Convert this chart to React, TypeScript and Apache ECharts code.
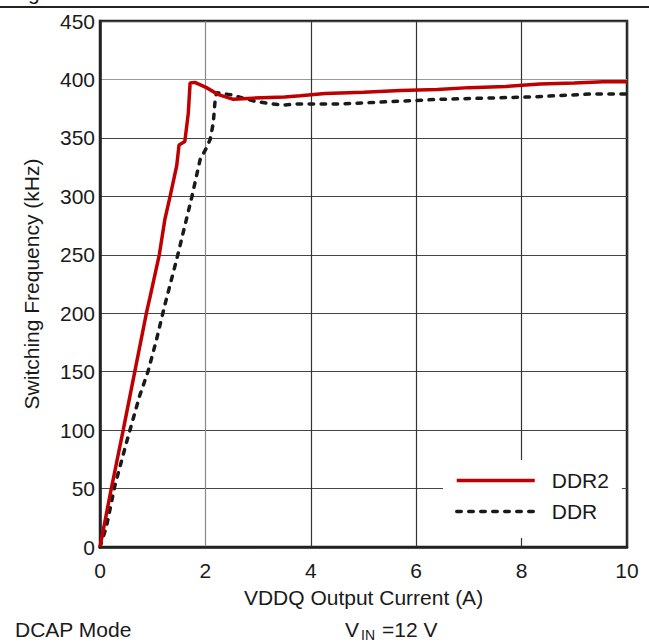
import React, { useEffect, useRef } from "react";
import * as echarts from "echarts";

const ddr2X = [0, 0.21, 0.44, 0.66, 0.88, 0.95, 1.125, 1.23, 1.33, 1.455, 1.5, 1.61, 1.675, 1.71, 1.8, 2.02, 2.25, 2.53, 2.9, 3.5, 3.8, 4.27, 5.0, 5.7, 6.4, 7.0, 7.7, 8.35, 9.0, 9.55, 10];
const ddr2Y = [0, 49, 100, 150, 200, 214, 250, 280, 300, 326, 344, 347, 371, 397, 397.5, 393, 387, 383, 384, 385, 386, 388, 389, 390.5, 391.5, 393, 394, 396, 397, 398, 398];

const ddrX = [0, 0.12, 0.28, 0.5, 0.75, 0.91, 1.07, 1.23, 1.455, 1.74, 1.9, 2.01, 2.09, 2.15, 2.18, 2.21, 2.47, 2.97, 3.45, 3.73, 4.55, 5.5, 6.45, 8.16, 9.3, 10];
const ddrY = [0, 17, 52, 89, 129, 150, 177, 207, 246, 299, 331.5, 340.6, 348.6, 363, 380, 388.6, 387, 381, 378, 379, 379, 381, 383, 385, 387.5, 387.5];

const seriesNames = ["DDR2", "DDR"];
const xAxisTitle = "VDDQ Output Current (A)";
const yAxisTitle = "Switching Frequency (kHz)";
const noteLeft = "DCAP Mode";

const FONT = "'Liberation Sans', Arial, sans-serif";
const TXT = "#1a1a1a";

export default function App() {
  const ref = useRef<HTMLDivElement>(null);
  useEffect(() => {
    if (!ref.current) return;
    const chart = echarts.init(ref.current, undefined, { renderer: "svg" });
    const zip = (xs: number[], ys: number[]) => xs.map((x, i) => [x, ys[i]]);
    chart.setOption({
      animation: false,
      backgroundColor: "#fff",
      textStyle: { fontFamily: FONT, color: TXT },
      grid: {
        left: 100,
        right: 22,
        top: 21,
        bottom: 96,
        show: true,
        borderColor: "#222",
        borderWidth: 2.5,
        backgroundColor: "transparent",
      },
      xAxis: {
        type: "value",
        min: 0,
        max: 10,
        interval: 2,
        name: xAxisTitle,
        nameLocation: "middle",
        nameGap: 40,
        nameTextStyle: { fontSize: 21, color: TXT, fontFamily: FONT },
        axisLine: { show: true, lineStyle: { color: "#222", width: 2.5 } },
        axisTick: { show: false },
        axisLabel: { fontSize: 21, color: TXT, margin: 13, fontFamily: FONT },
        splitLine: { show: true, lineStyle: { color: ["#555", "#888", "#333", "#333", "#333", "#333"], width: 1.2 } },
      },
      yAxis: {
        type: "value",
        min: 0,
        max: 450,
        interval: 50,
        name: yAxisTitle,
        nameLocation: "middle",
        nameGap: 58,
        nameRotate: 90,
        nameTextStyle: { fontSize: 21, color: TXT, fontFamily: FONT },
        axisLine: { show: true, lineStyle: { color: "#222", width: 2.5 } },
        axisTick: { show: false },
        axisLabel: { fontSize: 21, color: TXT, margin: 5, fontFamily: FONT },
        splitLine: { show: true, lineStyle: { color: ["#444", "#444", "#444", "#444", "#444", "#444", "#444", "#444", "#999", "#444"], width: 1.2 } },
      },
      legend: {
        orient: "vertical",
        left: 443,
        top: 460,
        padding: [10, 13, 16, 12],
        backgroundColor: "#fff",
        itemWidth: 78,
        itemHeight: 20,
        itemGap: 10,
        data: seriesNames,
        itemStyle: { opacity: 0 },
        lineStyle: { width: 3.5 },
        textStyle: { fontSize: 21, color: TXT, fontFamily: FONT, padding: [0, 0, 0, 12] },
      },
      series: [
        {
          name: seriesNames[0],
          type: "line",
          data: zip(ddr2X, ddr2Y),
          symbol: "none",
          z: 3,
          lineStyle: { color: "#c00000", width: 3.5 },
          itemStyle: { color: "#c00000" },
        },
        {
          name: seriesNames[1],
          type: "line",
          data: zip(ddrX, ddrY),
          symbol: "none",
          z: 2,
          lineStyle: { color: "#1a1a1a", width: 3.5, type: [4.5, 7.5], cap: "round" },
          itemStyle: { color: "#1a1a1a" },
        },
      ],
      graphic: [
        { type: "line", shape: { x1: 0, y1: 7, x2: 649, y2: 7 }, style: { stroke: "#222", lineWidth: 2 } },
        { type: "text", x: 28, y: 3, style: { text: "g", fontSize: 21, fontFamily: FONT, fill: TXT, verticalAlign: "bottom" } },
        { type: "text", x: 15, y: 629, style: { text: noteLeft, fontSize: 21, fontFamily: FONT, fill: TXT, verticalAlign: "middle" } },
        { type: "text", x: 345, y: 629, style: { text: "V", fontSize: 21, fontFamily: FONT, fill: TXT, verticalAlign: "middle" } },
        { type: "text", x: 361, y: 635, style: { text: "IN", fontSize: 14, fontFamily: FONT, fill: TXT, verticalAlign: "middle" } },
        { type: "text", x: 382, y: 629, style: { text: "=12 V", fontSize: 21, fontFamily: FONT, fill: TXT, verticalAlign: "middle" } },
      ],
    });
    return () => chart.dispose();
  }, []);
  return <div ref={ref} style={{ position: "absolute", left: 0, top: 0, width: 649, height: 643 }} />;
}
